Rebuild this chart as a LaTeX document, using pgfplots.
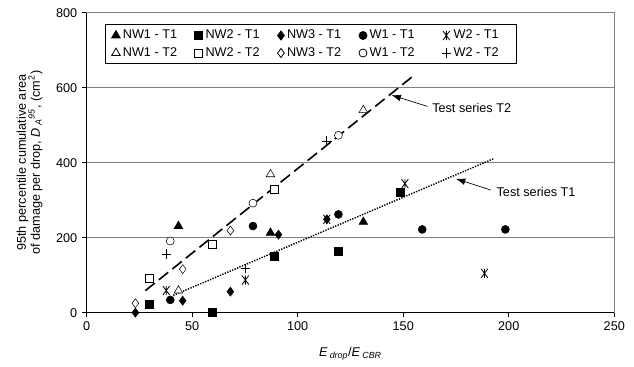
\documentclass[border=0pt]{standalone}
\usepackage{fontspec}
\setmainfont{Liberation Sans}
\usepackage{pgfplots}
\pgfplotsset{compat=1.18}
\usetikzlibrary{calc,arrows.meta}

\pgfdeclareplotmark{xstar}{%
 \pgfpathmoveto{\pgfqpoint{-0.75\pgfplotmarksize}{-\pgfplotmarksize}}%
 \pgfpathlineto{\pgfqpoint{0.75\pgfplotmarksize}{\pgfplotmarksize}}%
 \pgfpathmoveto{\pgfqpoint{-0.75\pgfplotmarksize}{\pgfplotmarksize}}%
 \pgfpathlineto{\pgfqpoint{0.75\pgfplotmarksize}{-\pgfplotmarksize}}%
 \pgfpathmoveto{\pgfqpoint{0pt}{-\pgfplotmarksize}}%
 \pgfpathlineto{\pgfqpoint{0pt}{\pgfplotmarksize}}%
 \pgfusepathqstroke}

\pgfplotsset{
 pt/.style={only marks, mark options={solid, line width=0.6pt, draw=black},
   legend image code/.code={\draw[mark repeat=2,mark phase=2,##1] plot coordinates {(0pt,0pt)(4pt,0pt)(8pt,0pt)};}},
}

\begin{document}
\begin{tikzpicture}[font=\fontsize{9.5}{11}\selectfont]
\begin{axis}[
 scale only axis, width=395.7pt, height=225pt,
 xmin=0, xmax=250, ymin=0, ymax=800,
 xtick={0,50,...,250}, ytick={0,200,...,800},
 clip=false,
 axis line style={draw=gray, line width=0.6pt},
 ymajorgrids, grid style={gray, line width=0.6pt},
 tick align=outside, tick pos=left, major tick length=3.5pt,
 tick style={black, line width=0.8pt},
 /pgf/number format/assume math mode=true,
 tick label style={font=\fontsize{9.5}{11}\selectfont},
 xlabel={\textit{E}\,\textsubscript{\textit{drop}}/\textit{E}\,\textsubscript{\textit{CBR}}},
 xlabel style={at={(axis description cs:0.5,-0.145)}, anchor=base},
 ylabel={95th percentile cumulative area\\of damage per drop, \textit{D}\,\textsubscript{\textit{A}}\textsuperscript{\textit{95}}, (cm\textsuperscript{2})},
 ylabel style={align=center, at={(axis description cs:-0.075,0.5)}, anchor=south,
   font=\fontsize{9.5}{10.5}\selectfont},
 legend columns=5,
 legend cell align=left,
 legend style={at={(0.034,0.961)}, anchor=north west, draw=black, line width=0.6pt,
   font=\fontsize{9.5}{11}\selectfont,
   /tikz/every even column/.append style={column sep=6pt},
   row sep=1pt, inner xsep=5pt, inner ysep=2pt},
]
\draw[black, line width=1.2pt] (rel axis cs:0,1) -- (rel axis cs:0,0) -- (rel axis cs:1,0);
\coordinate (bl) at (rel axis cs:0,0);
\coordinate (tr) at (rel axis cs:1,1);

% T1 series
\addplot[pt, mark=triangle*, mark size=3.7pt, mark options={fill=black}] coordinates {(43.5,231) (87.1,213) (131.1,242)};
\addlegendentry{\makebox[46pt][l]{NW1 - T1}}
\addplot[pt, mark=square*, mark size=3pt, mark options={fill=black}] coordinates {(29.7,23) (59.5,0) (89,151) (119.3,163) (148.7,322)};
\addlegendentry{\makebox[46pt][l]{NW2 - T1}}
\addplot[pt, mark=diamond*, mark size=3.4pt, mark options={fill=black}] coordinates {(23.1,0) (45.5,32) (68.1,56) (90.9,208) (113.8,249)};
\addlegendentry{\makebox[46pt][l]{NW3 - T1}}
\addplot[pt, mark=*, mark size=3pt, mark options={fill=black}] coordinates {(39.6,34) (78.8,231) (119.3,262) (159,222) (198.4,222)};
\addlegendentry{\makebox[46pt][l]{W1 - T1}}
\addplot[pt, mark=xstar, mark size=3.4pt] coordinates {(37.7,59) (75.2,87) (113.8,249) (150.8,344) (188.5,105)};
\addlegendentry{\makebox[40pt][l]{W2 - T1}}

% T2 series
\addplot[pt, mark=triangle*, mark size=3.7pt, mark options={fill=white}] coordinates {(43.5,59) (87.1,369) (131.1,540)};
\addlegendentry{\makebox[46pt][l]{NW1 - T2}}
\addplot[pt, mark=square*, mark size=3pt, mark options={fill=white}] coordinates {(29.7,92) (59.5,183) (89,329)};
\addlegendentry{\makebox[46pt][l]{NW2 - T2}}
\addplot[pt, mark=diamond*, mark size=3.4pt, mark options={fill=white}] coordinates {(23.1,25) (45.5,116) (68.1,219)};
\addlegendentry{\makebox[46pt][l]{NW3 - T2}}
\addplot[pt, mark=*, mark size=3pt, mark options={fill=white}] coordinates {(39.6,191) (78.8,292) (119.3,473)};
\addlegendentry{\makebox[46pt][l]{W1 - T2}}
\addplot[pt, mark=+, mark size=3.5pt] coordinates {(37.7,156) (75.2,118) (113.8,458)};
\addlegendentry{\makebox[40pt][l]{W2 - T2}}

% trend lines
\addplot[black, line width=1.2pt, dash pattern=on 9pt off 4pt, forget plot] coordinates {(27.8,58.7) (154.7,631)};
\addplot[black, line width=1.1pt, dash pattern=on 1pt off 1pt, forget plot] coordinates {(41,46) (193,411)};

% annotations
\draw[-{Latex[length=7pt,width=5pt]}, line width=0.5pt] (axis cs:161.5,550) -- (axis cs:144.5,580);
\node[anchor=west, inner sep=1pt] at (axis cs:163,546) {Test series T2};
\draw[-{Latex[length=7pt,width=5pt]}, line width=0.5pt] (axis cs:191.5,327) -- (axis cs:175,357);
\node[anchor=west, inner sep=1pt] at (axis cs:193.5,323) {Test series T1};
\end{axis}
\pgfresetboundingbox
\path[use as bounding box] ($(bl)+(-65pt,-40.7pt)$) rectangle ($(tr)+(14.8pt,9.5pt)$);
\end{tikzpicture}
\end{document}
